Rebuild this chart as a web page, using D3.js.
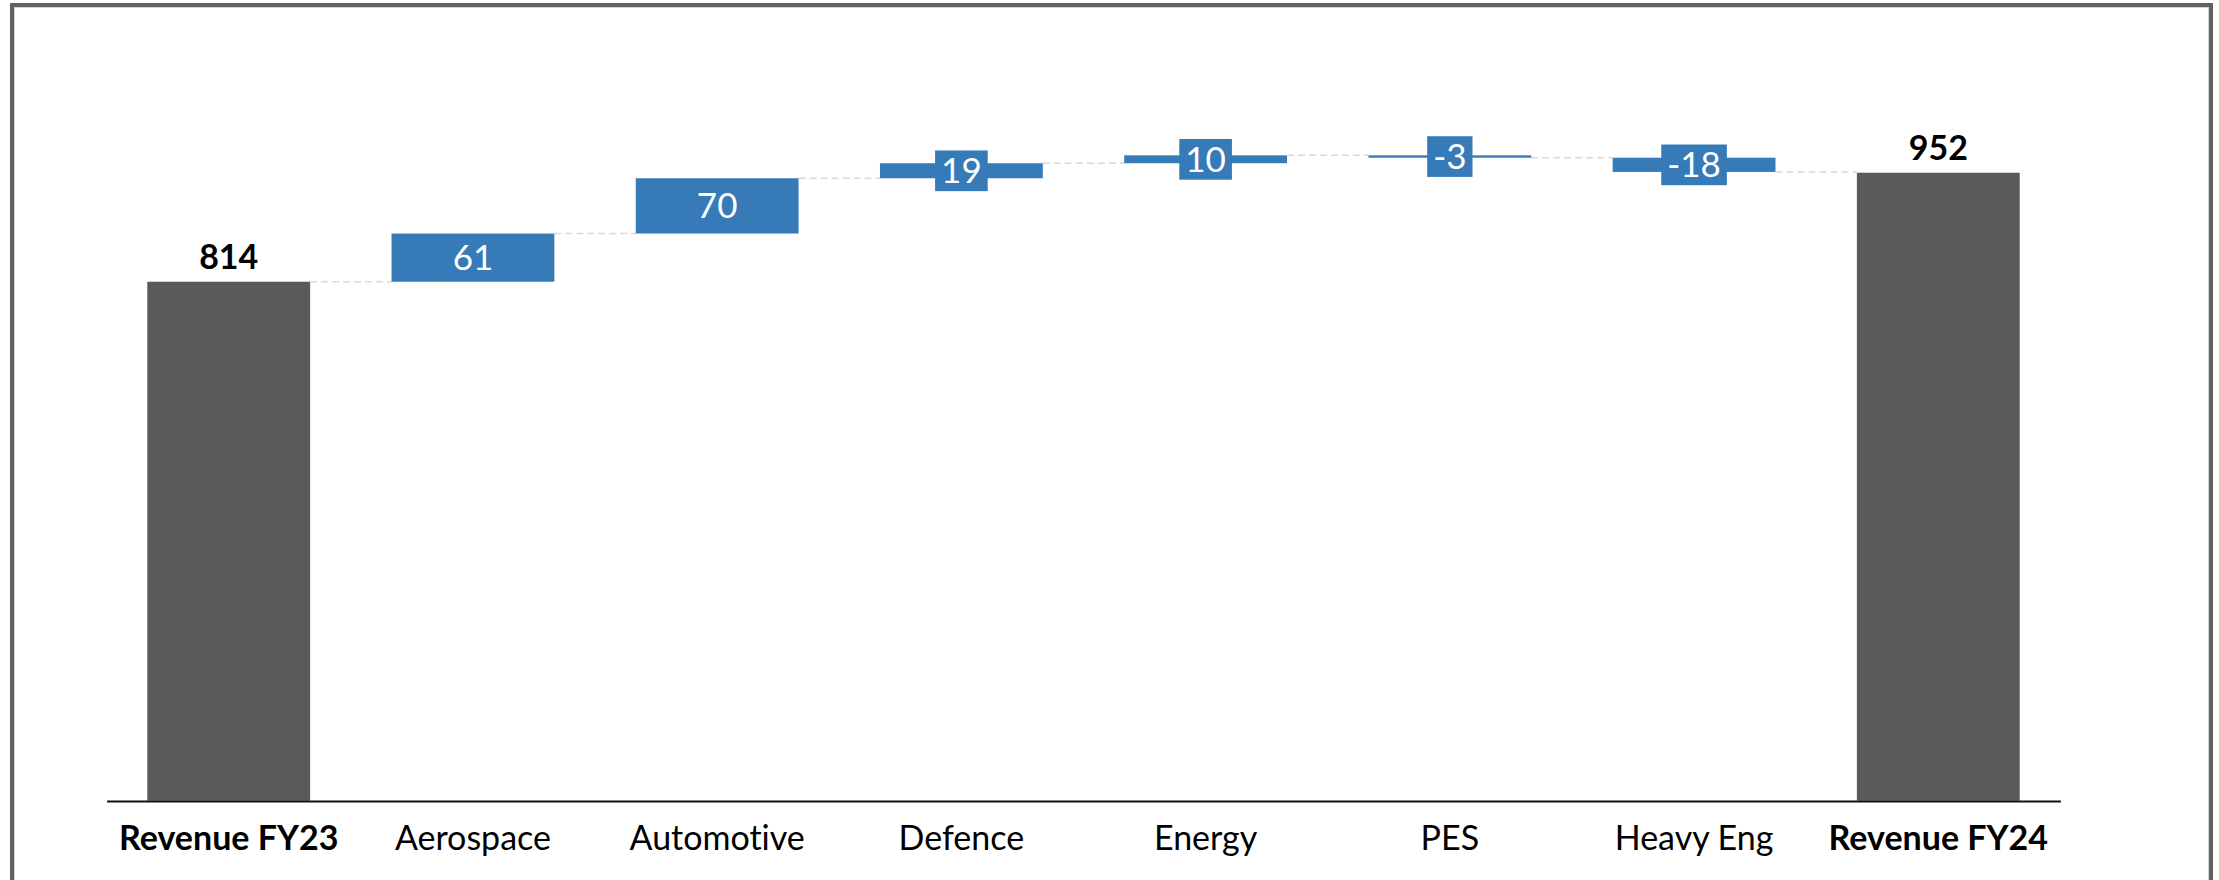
<!DOCTYPE html>
<html>
<head>
<meta charset="utf-8">
<script src="https://cdn.jsdelivr.net/npm/d3@7"></script>
<style>
  html, body { margin: 0; padding: 0; background: #ffffff; }
  svg { display: block; }
  text { font-family: Lato, "Open Sans", sans-serif; font-variant-ligatures: none; font-feature-settings: "liga" 0; }
</style>
</head>
<body>
<script>
// ---- data ----
const categories = ["Revenue FY23", "Aerospace", "Automotive", "Defence", "Energy", "PES", "Heavy Eng", "Revenue FY24"];
const values = [814, 61, 70, 19, 10, -3, -18, 952];
const isTotal = [true, false, false, false, false, false, false, true];
const valueLabels = ["814", "61", "70", "19", "10", "-3", "-18", "952"];

// ---- layout ----
const W = 2219, H = 880;
const colorTotal = "#5a5a5c";
const colorDelta = "#367ab7";

const svg = d3.select("body").append("svg").attr("width", W).attr("height", H);

// frame
svg.append("rect").attr("x", 12).attr("y", 5).attr("width", 2199).attr("height", 920)
  .attr("fill", "none").attr("stroke", "#616161").attr("stroke-width", 4);
svg.append("rect").attr("x", 14.5).attr("y", 7.5).attr("width", 2194).attr("height", 920)
  .attr("fill", "none").attr("stroke", "#d4d4d4").attr("stroke-width", 1);

const x = d3.scaleBand().domain(categories).range([106.6, 2060.4]).paddingInner(1/3).paddingOuter(1/6);
const y = d3.scaleLinear().domain([157, 1000]).range([800.7, 134.8]);
const base = y.domain()[0];

// compute waterfall segments
let running = 0;
const bars = categories.map((c, i) => {
  let start, end;
  if (isTotal[i]) { start = base; end = values[i]; running = values[i]; }
  else { start = running; end = running + values[i]; running = end; }
  return { cat: c, start, end, total: isTotal[i], label: valueLabels[i], level: running };
});

// connectors
const conn = svg.append("g");
for (let i = 0; i < bars.length - 1; i++) {
  const lvl = bars[i].level;
  conn.append("line")
    .attr("x1", x(bars[i].cat) + x.bandwidth())
    .attr("x2", x(bars[i + 1].cat))
    .attr("y1", y(lvl)).attr("y2", y(lvl))
    .attr("stroke", "#d9d9d9").attr("stroke-width", 1.5)
    .attr("stroke-dasharray", "7,4");
}

// bars
svg.append("g").selectAll("rect").data(bars).join("rect")
  .attr("x", d => x(d.cat))
  .attr("width", x.bandwidth())
  .attr("y", d => y(Math.max(d.start, d.end)))
  .attr("height", d => Math.max(1, Math.abs(y(d.start) - y(d.end))))
  .attr("fill", d => d.total ? colorTotal : colorDelta);

// axis
const axis = svg.append("g").attr("transform", "translate(0,801)")
  .call(d3.axisBottom(x).tickSize(0).tickSizeOuter(0));
axis.select(".domain").attr("stroke", "#111").attr("stroke-width", 2.2);
axis.selectAll(".tick text")
  .attr("y", 49).attr("dy", 0)
  .attr("fill", "#000")
  .style("font-family", "Lato, sans-serif")
  .style("font-size", "34px")
  .style("font-weight", (d, i) => isTotal[i] ? "bold" : "normal");

// value labels
const lab = svg.append("g");
bars.forEach(d => {
  const cx = x(d.cat) + x.bandwidth() / 2;
  if (d.total) {
    lab.append("text").attr("x", cx).attr("y", y(d.end) - 13)
      .attr("text-anchor", "middle").attr("fill", "#000")
      .style("font-size", "34px").style("font-weight", "bold")
      .text(d.label);
  } else {
    const cy = (y(d.start) + y(d.end)) / 2;
    const g = lab.append("g");
    const t = g.append("text").attr("x", cx).attr("y", cy + 12.5)
      .attr("text-anchor", "middle").attr("fill", "#fff")
      .style("font-size", "35px")
      .text(d.label);
    const tw = t.node().getComputedTextLength();
    g.insert("rect", "text")
      .attr("x", cx - tw / 2 - 6).attr("width", tw + 12)
      .attr("y", cy - 20.3).attr("height", 40.7)
      .attr("fill", colorDelta);
  }
});
</script>
</body>
</html>
